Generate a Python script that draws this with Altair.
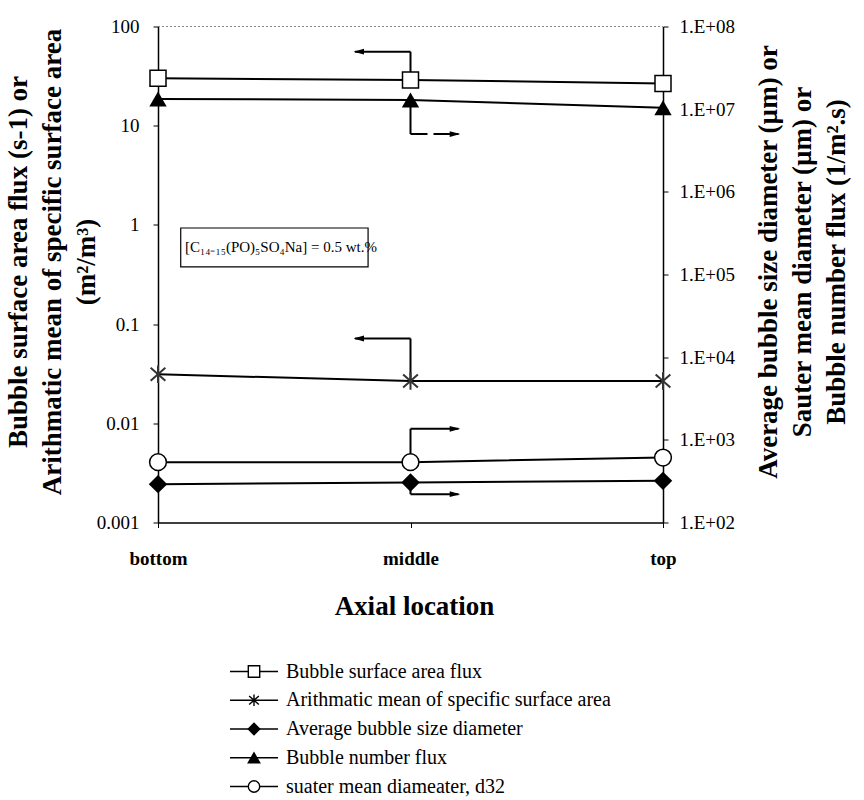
import json
import altair as alt
import pandas as pd

# ---------------- data ----------------
locations = ["bottom", "middle", "top"]
location_pos = [0, 1, 2]

bubble_surface_area_flux = [30.0, 28.9, 26.7]        # left axis (s-1)
arith_mean_specific_area = [0.0312, 0.0267, 0.0267]  # left axis (m2/m3)
avg_bubble_size_diameter = [291, 305, 319]           # right axis (um)
bubble_number_flux = [1.33e7, 1.29e7, 1.04e7]        # right axis (1/m2.s)
sauter_mean_diameter = [537, 537, 611]               # right axis (um)

left_ticks = [0.001, 0.01, 0.1, 1, 10, 100]
right_ticks = [1e2, 1e3, 1e4, 1e5, 1e6, 1e7, 1e8]

legend_labels = [
    "Bubble surface area flux",
    "Arithmatic mean of specific surface area",
    "Average bubble size diameter",
    "Bubble number flux",
    "suater mean diameater, d32",
]

left_title = ["Bubble surface area flux (s-1) or",
              "Arithmatic mean of specific surface area",
              "(m²/m³)"]
right_title = ["Average bubble size diameter (µm) or",
               "Sauter mean diameter (µm) or",
               "Bubble number flux (1/m².s)"]

# annotation box (data units: x = location index, y = left axis)
box_text = "[C₁₄₋₁₅(PO)₅SO₄Na] = 0.5 wt.%"
box_x = [0.09, 0.832]
box_y = [0.377, 0.931]
box_text_pos = [0.107, 0.592]

# call-out arrows (start value, turning value, end x)
left_callout_from = [28.9, 0.0267]
left_callout_turn = [55.7, 0.0716]
left_callout_end_x = [0.78, 0.78]
left_head_x = [0.795, 0.795]
right_callout_from = [1.29e7, 537, 305]
right_callout_turn = [5.0e6, 1360, 220]
right_callout_end_x = [1.19, 1.19, 1.19]
right_head_x = [1.176, 1.176, 1.176]
right_callout_dashed = [True, False, False]

# ---------------- shapes ----------------
ASTERISK = "M0,-1L0,1M-0.85,-0.75L0.85,0.75M-0.85,0.75L0.85,-0.75"
HEAD_LEFT = "M-1,0L1,-0.55L1,0.55Z"
HEAD_RIGHT = "M1,0L-1,-0.55L-1,0.55Z"
FONT = "Liberation Serif"

# ---------------- scales / axes ----------------
x_axis = alt.Axis(values=location_pos,
                  labelExpr=f"{json.dumps(locations)}[datum.value]",
                  labelFontSize=19, labelFontWeight="bold", labelPadding=22,
                  labelFlush=False, labelColor="black", tickSize=5, tickColor="black",
                  domainColor="black", domainWidth=1.5, grid=False,
                  title="Axial location", titleFontSize=27, titleFontWeight="bold",
                  titleColor="black", titleY=84, titleX=256, titleBaseline="middle",
                  titleAlign="center")
X = alt.X("x:Q", scale=alt.Scale(domain=[0, 2], nice=False, zero=False), axis=x_axis)

left_scale = alt.Scale(type="log", domain=[0.001, 100], nice=False)
left_axis = alt.Axis(orient="left", values=left_ticks, format="~g",
                     labelFontSize=19, labelPadding=14, labelColor="black",
                     tickSize=5, tickColor="black", domainColor="black",
                     domainWidth=1.5, grid=False,
                     title=left_title, titleFontSize=27, titleFontWeight="bold",
                     titleColor="black", titleAngle=270, titleX=-153, titleY=235,
                     titleAlign="center", titleBaseline="top", titleLineHeight=34)
right_scale = alt.Scale(type="log", domain=[1e2, 1e8], nice=False)
right_axis = alt.Axis(orient="right", values=right_ticks,
                      labelExpr="'1.E+0' + round(log(datum.value)/LN10)",
                      labelFontSize=19, labelPadding=11, labelColor="black",
                      tickSize=5, tickColor="black", domainColor="black",
                      domainWidth=1.5, grid=False,
                      title=right_title, titleFontSize=27, titleFontWeight="bold",
                      titleColor="black", titleAngle=270, titleX=92, titleY=235,
                      titleAlign="center", titleBaseline="top", titleLineHeight=34)


def lY(field="v"):
    return alt.Y(f"{field}:Q", scale=left_scale, axis=left_axis)


def rY(field="v"):
    return alt.Y(f"{field}:Q", scale=right_scale, axis=right_axis)


def series_df(values):
    return pd.DataFrame({"x": location_pos, "v": values})


# ---------------- left-axis layers ----------------
top_border = alt.Chart(pd.DataFrame({"x": [0], "x2": [2], "v": [100]})).mark_rule(
    color="#888888", strokeDash=[2, 2], strokeWidth=1).encode(x=X, x2="x2:Q", y=lY())

l_vert = alt.Chart(pd.DataFrame({"x": [1, 1], "v": left_callout_from, "v2": left_callout_turn})
                   ).mark_rule(color="black", strokeWidth=2).encode(x=X, y=lY(), y2="v2:Q")
l_horz = alt.Chart(pd.DataFrame({"x": [1, 1], "x2": left_callout_end_x, "v": left_callout_turn})
                   ).mark_rule(color="black", strokeWidth=2).encode(x=X, x2="x2:Q", y=lY())
l_head = alt.Chart(pd.DataFrame({"x": left_head_x, "v": left_callout_turn})).mark_point(
    shape=HEAD_LEFT, size=110, filled=True, color="black", opacity=1).encode(x=X, y=lY())

box = alt.Chart(pd.DataFrame({"x": [box_x[0]], "x2": [box_x[1]], "v": [box_y[0]], "v2": [box_y[1]]})
                ).mark_rect(fill="white", stroke="black", strokeWidth=1.2).encode(
    x=X, x2="x2:Q", y=lY(), y2="v2:Q")
box_label = alt.Chart(pd.DataFrame({"x": [box_text_pos[0]], "v": [box_text_pos[1]], "t": [box_text]})
                      ).mark_text(align="left", baseline="middle", fontSize=15, color="black",
                                  font=FONT).encode(x=X, y=lY(), text="t:N")

sq_line = alt.Chart(series_df(bubble_surface_area_flux)).mark_line(
    color="black", strokeWidth=2).encode(x=X, y=lY())
sq_pts = alt.Chart(series_df(bubble_surface_area_flux)).mark_point(
    shape="square", size=256, filled=True, fill="white", stroke="black",
    strokeWidth=1.5, opacity=1).encode(x=X, y=lY())
ast_line = alt.Chart(series_df(arith_mean_specific_area)).mark_line(
    color="black", strokeWidth=2).encode(x=X, y=lY())
ast_pts = alt.Chart(series_df(arith_mean_specific_area)).mark_point(
    shape=ASTERISK, size=300, filled=False, stroke="#333333",
    strokeWidth=2, opacity=1).encode(x=X, y=lY())

left = alt.layer(top_border, l_vert, l_horz, l_head, box, box_label,
                 sq_line, ast_line, sq_pts, ast_pts)

# ---------------- right-axis layers ----------------
rc = pd.DataFrame({"x": [1, 1, 1], "x2": right_callout_end_x, "v": right_callout_from,
                   "v2": right_callout_turn, "dashed": right_callout_dashed})
r_vert = alt.Chart(rc).mark_rule(color="black", strokeWidth=2).encode(x=X, y=rY(), y2="v2:Q")
r_horz_solid = alt.Chart(rc[~rc["dashed"]]).mark_rule(color="black", strokeWidth=2).encode(
    x=X, x2="x2:Q", y=rY("v2"))
r_horz_dash = alt.Chart(rc[rc["dashed"]]).mark_rule(
    color="black", strokeWidth=2, strokeDash=[17, 6]).encode(x=X, x2="x2:Q", y=rY("v2"))
r_head = alt.Chart(pd.DataFrame({"x": right_head_x, "v": right_callout_turn})).mark_point(
    shape=HEAD_RIGHT, size=110, filled=True, color="black", opacity=1).encode(x=X, y=rY())

dia_line = alt.Chart(series_df(avg_bubble_size_diameter)).mark_line(
    color="black", strokeWidth=2).encode(x=X, y=rY())
dia_pts = alt.Chart(series_df(avg_bubble_size_diameter)).mark_point(
    shape="diamond", size=340, filled=True, color="black", opacity=1).encode(x=X, y=rY())
tri_line = alt.Chart(series_df(bubble_number_flux)).mark_line(
    color="black", strokeWidth=2).encode(x=X, y=rY())
tri_pts = alt.Chart(series_df(bubble_number_flux)).mark_point(
    shape="triangle-up", size=300, filled=True, color="black", opacity=1).encode(x=X, y=rY())
cir_line = alt.Chart(series_df(sauter_mean_diameter)).mark_line(
    color="black", strokeWidth=2).encode(x=X, y=rY())
cir_pts = alt.Chart(series_df(sauter_mean_diameter)).mark_point(
    shape="circle", size=280, filled=True, fill="white", stroke="black",
    strokeWidth=1.5, opacity=1).encode(x=X, y=rY())

right = alt.layer(r_vert, r_horz_solid, r_horz_dash, r_head,
                  dia_line, tri_line, cir_line, dia_pts, tri_pts, cir_pts)

# ---------------- custom legend ----------------
leg_shapes = ["square", ASTERISK, "diamond", "triangle-up", "circle"]
leg_fills = ["white", "transparent", "black", "black", "white"]
leg_df = pd.DataFrame({"label": legend_labels})
legY = alt.Y("label:O", scale=alt.Scale(type="point", padding=0, domain=legend_labels,
                                         range=[645, 760]), axis=None)
leg_rule = alt.Chart(leg_df).mark_rule(color="black", strokeWidth=1.5).encode(
    x=alt.value(72), x2=alt.value(120), y=legY)
leg_pts = alt.Chart(leg_df).mark_point(size=130, strokeWidth=1.4, opacity=1).encode(
    x=alt.value(96), y=legY,
    shape=alt.Shape("label:N", scale=alt.Scale(domain=legend_labels, range=leg_shapes), legend=None),
    fill=alt.Fill("label:N", scale=alt.Scale(domain=legend_labels, range=leg_fills), legend=None),
    stroke=alt.value("black"))
leg_text = alt.Chart(leg_df).mark_text(align="left", baseline="middle", fontSize=20,
                                       color="black", font=FONT).encode(
    x=alt.value(128), y=legY, text="label:N")
legend = alt.layer(leg_rule, leg_pts, leg_text)

chart = alt.layer(left, right, legend).resolve_scale(
    y="independent", shape="independent", fill="independent"
).properties(
    width=505, height=496,
    padding={"left": 158, "top": 26.5, "right": 201, "bottom": 277.5},
    autosize=alt.AutoSizeParams(type="none"),
    background="white",
).configure(font=FONT).configure_view(stroke=None)

chart.save("out.html", embed_options={"renderer": "svg", "actions": False})
